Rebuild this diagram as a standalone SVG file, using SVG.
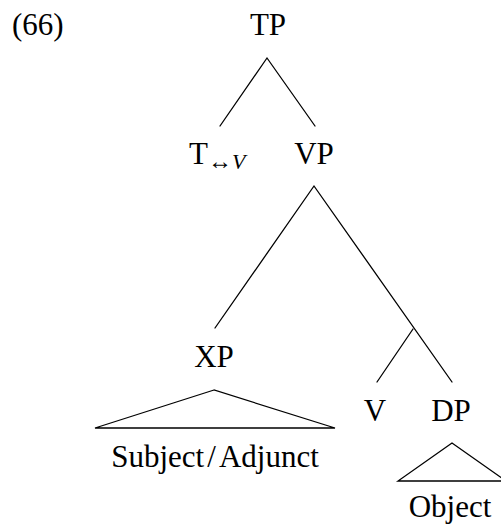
<svg xmlns="http://www.w3.org/2000/svg" width="501" height="525" viewBox="0 0 501 525">
  <defs>
    <style>
      .edge { stroke: #000; stroke-width: 1.3; fill: none; stroke-linecap: round; }
    </style>
  </defs>
  <rect width="501" height="525" fill="#fff"/>

  <text id="exnum" x="12" y="35" font-family="Liberation Serif" font-size="31">(66)</text>

  <g id="connectors">
    <!-- TP -> T, VP -->
    <path class="edge" d="M267,58 L220,126 M267,58 L315,126"/>
    <!-- VP -> XP, V' -> DP -->
    <path class="edge" d="M314,186 L215,328 M314,186 L452,382"/>
    <!-- V' -> V -->
    <path class="edge" d="M413,329 L377,382"/>
    <!-- XP roof -->
    <path class="edge" d="M214,390 L95,428 L335,428 Z"/>
    <!-- DP roof -->
    <path class="edge" d="M452,443 L398,481 L506,481 Z"/>
  </g>

  <g id="node-TP"><text x="268" y="35" font-family="Liberation Serif" font-size="31" text-anchor="middle">TP</text></g>
  <g id="node-T"><text x="189" y="164" font-family="Liberation Serif" font-size="31">T<tspan font-size="24" dy="5">↔</tspan><tspan font-size="22" font-style="italic">V</tspan></text></g>
  <g id="node-VP"><text x="314" y="164" font-family="Liberation Serif" font-size="31" text-anchor="middle">VP</text></g>
  <g id="node-XP"><text x="214" y="367" font-family="Liberation Serif" font-size="31" text-anchor="middle">XP</text></g>
  <g id="node-SubjAdj"><text x="215" y="467" font-family="Liberation Serif" font-size="31" text-anchor="middle">Subject<tspan dx="3">/</tspan><tspan dx="3">Adjunct</tspan></text></g>
  <g id="node-V"><text x="375" y="421" font-family="Liberation Serif" font-size="31" text-anchor="middle">V</text></g>
  <g id="node-DP"><text x="451" y="421" font-family="Liberation Serif" font-size="31" text-anchor="middle">DP</text></g>
  <g id="node-Object"><text x="450" y="517" font-family="Liberation Serif" font-size="31" text-anchor="middle">Object</text></g>
</svg>
